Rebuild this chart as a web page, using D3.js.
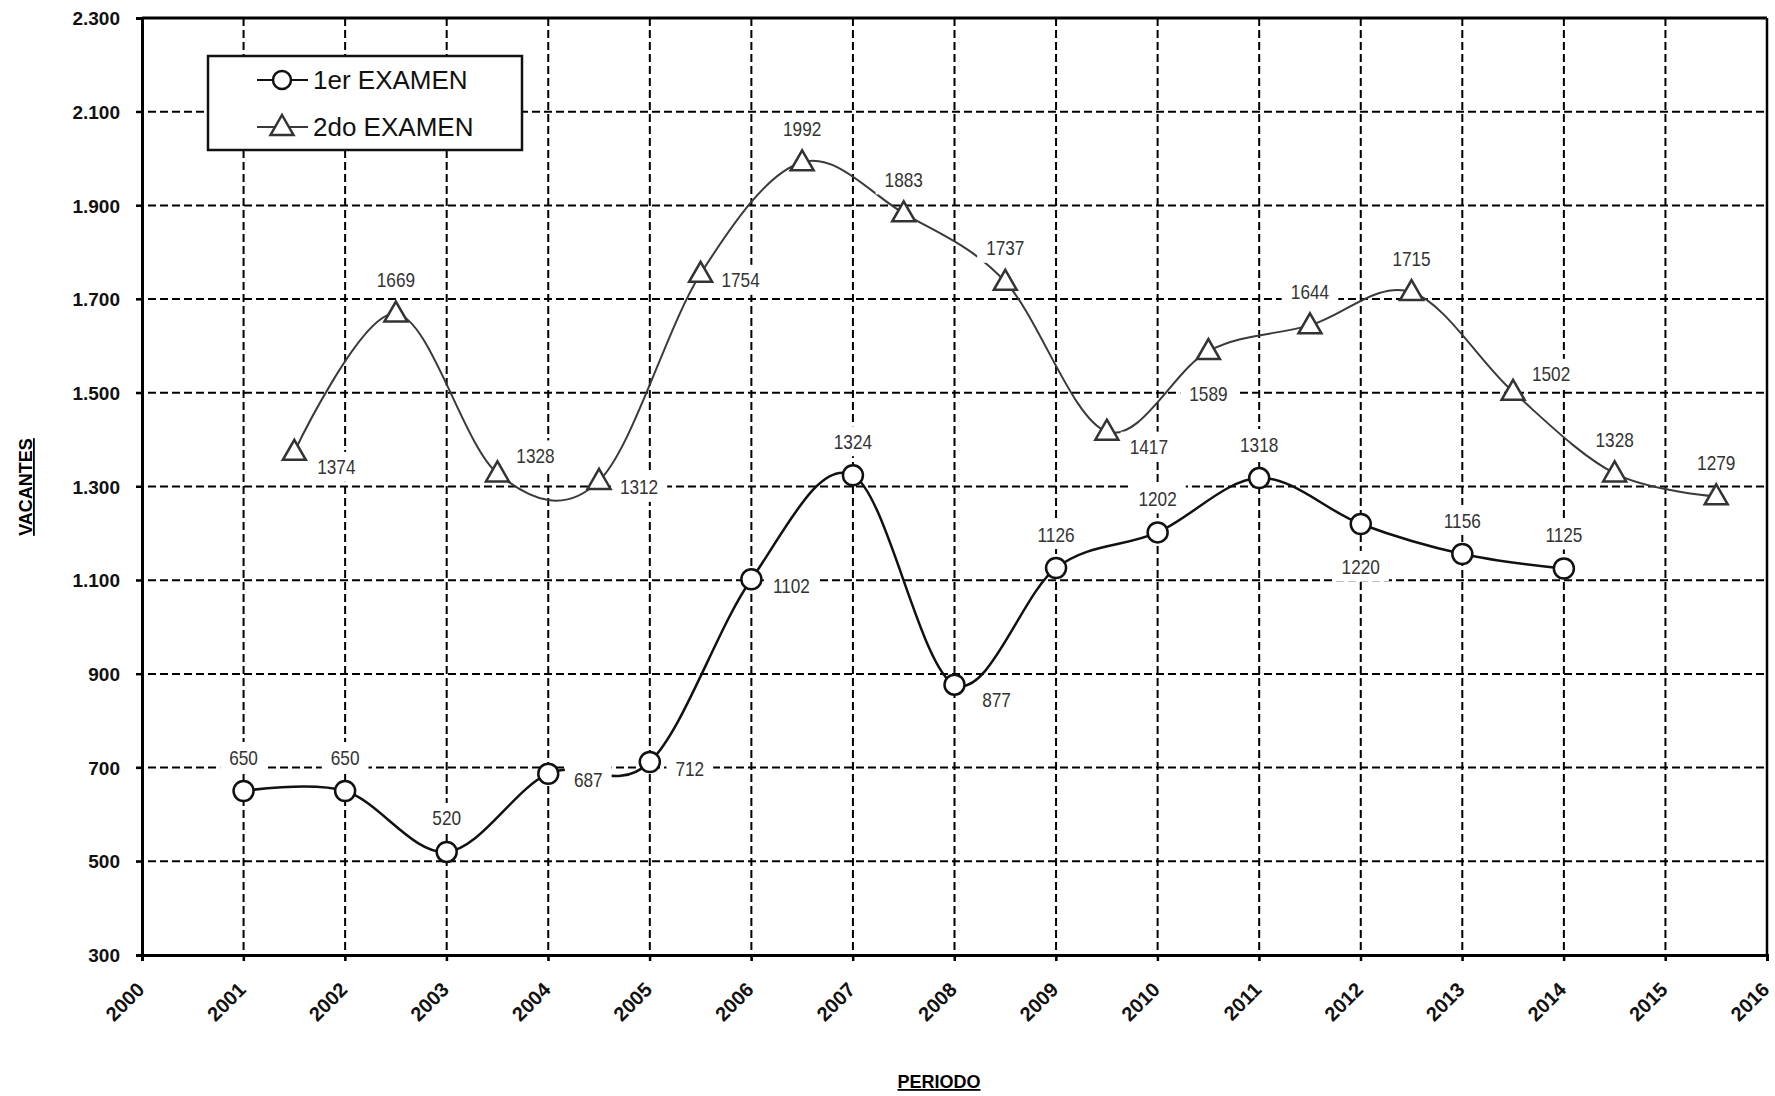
<!DOCTYPE html>
<html>
<head>
<meta charset="utf-8">
<script src="https://cdn.jsdelivr.net/npm/d3@7"></script>
<style>
  body { margin: 0; background: #fff; }
  svg { display: block; }
</style>
</head>
<body>
<div id="chart"></div>
<script>
// data
var years1 = [2001, 2002, 2003, 2004, 2005, 2006, 2007, 2008, 2009, 2010, 2011, 2012, 2013, 2014];
var exam1 = [650, 650, 520, 687, 712, 1102, 1324, 877, 1126, 1202, 1318, 1220, 1156, 1125];
var years2 = [2001.5, 2002.5, 2003.5, 2004.5, 2005.5, 2006.5, 2007.5, 2008.5, 2009.5, 2010.5, 2011.5, 2012.5, 2013.5, 2014.5, 2015.5];
var exam2 = [1374, 1669, 1328, 1312, 1754, 1992, 1883, 1737, 1417, 1589, 1644, 1715, 1502, 1328, 1279];
// where each value label sits: a = above, b = below, r = right, rb / ra = right-below / right-above
var place1 = ['a', 'a', 'a', 'r', 'r', 'r', 'a', 'rb', 'a', 'a', 'a', 'b', 'a', 'a'];
var place2 = ['rb', 'a', 'ra', 'r', 'r', 'a', 'a', 'a', 'rb', 'b', 'a', 'a', 'ra', 'a', 'a'];
var xTicks = d3.range(2000, 2017);
var yTicks = d3.range(300, 2301, 200);
var seriesNames = ['1er EXAMEN', '2do EXAMEN'];

var width = 1775, height = 1096;
var pLeft = 142, pTop = 18, pRight = 1767, pBottom = 955;

var offsets = { a: [0, -34], b: [0, 42], r: [40, 6], rb: [42, 15], ra: [38, -18] };

var axisFont = "'Liberation Sans', Arial, sans-serif";

var svg = d3.select("#chart").append("svg")
    .attr("width", width)
    .attr("height", height);

var x = d3.scaleLinear().domain([2000, 2016]).range([pLeft, pRight]);
var y = d3.scaleLinear().domain([300, 2300]).range([pBottom, pTop]);

var fmt = d3.formatLocale({ decimal: ",", thousands: ".", grouping: [3], currency: ["", ""] }).format(",d");

// grid
var grid = svg.append("g");
grid.selectAll("line.v").data(xTicks.slice(1, -1)).enter().append("line")
    .attr("x1", function(d) { return x(d); }).attr("x2", function(d) { return x(d); })
    .attr("y1", pTop).attr("y2", pBottom + 6)
    .attr("stroke", "#000").attr("stroke-width", 2).attr("stroke-dasharray", "8,4");
grid.selectAll("line.h").data(yTicks.slice(1, -1)).enter().append("line")
    .attr("x1", pLeft - 6).attr("x2", pRight)
    .attr("y1", function(d) { return y(d); }).attr("y2", function(d) { return y(d); })
    .attr("stroke", "#000").attr("stroke-width", 2).attr("stroke-dasharray", "8,4");

// axes through d3
var yAxis = svg.append("g")
    .attr("transform", "translate(" + pLeft + ",0)")
    .call(d3.axisLeft(y).tickValues(yTicks).tickFormat(fmt).tickSize(6).tickPadding(16));
yAxis.select(".domain").attr("stroke-width", 3);
yAxis.selectAll(".tick line").attr("stroke-width", 2);
yAxis.selectAll("text")
    .attr("font-family", axisFont).attr("font-weight", "bold").attr("font-size", 19).attr("fill", "#111")
    .attr("dy", "0.35em");

var xAxis = svg.append("g")
    .attr("transform", "translate(0," + pBottom + ")")
    .call(d3.axisBottom(x).tickValues(xTicks).tickFormat(d3.format("d")).tickSize(6));
xAxis.select(".domain").attr("stroke-width", 3);
xAxis.selectAll(".tick line").attr("stroke-width", 2);
xAxis.selectAll("text")
    .attr("font-family", axisFont).attr("font-weight", "bold").attr("font-size", 20).attr("fill", "#111")
    .attr("text-anchor", "end")
    .attr("dy", null)
    .attr("y", 0)
    .attr("transform", "translate(3,36) rotate(-45)");

// top and right border
svg.append("line").attr("x1", pLeft).attr("x2", pRight).attr("y1", pTop).attr("y2", pTop)
    .attr("stroke", "#000").attr("stroke-width", 3);
svg.append("line").attr("x1", pRight).attr("x2", pRight).attr("y1", pTop).attr("y2", pBottom)
    .attr("stroke", "#000").attr("stroke-width", 2.5);

// axis titles
svg.append("text")
    .attr("transform", "translate(32,487) rotate(-90)")
    .attr("text-anchor", "middle")
    .attr("font-family", axisFont).attr("font-weight", "bold").attr("font-size", 18)
    .attr("text-decoration", "underline")
    .text("VACANTES");
svg.append("text")
    .attr("x", 939).attr("y", 1088)
    .attr("text-anchor", "middle")
    .attr("font-family", axisFont).attr("font-weight", "bold").attr("font-size", 18)
    .attr("text-decoration", "underline")
    .text("PERIODO");

// lines
var line = d3.line()
    .x(function(d) { return x(d[0]); })
    .y(function(d) { return y(d[1]); })
    .curve(d3.curveCatmullRom.alpha(0));

var pts1 = years1.map(function(d, i) { return [d, exam1[i]]; });
var pts2 = years2.map(function(d, i) { return [d, exam2[i]]; });

svg.append("path").datum(pts2).attr("d", line)
    .attr("fill", "none").attr("stroke", "#3a3a3a").attr("stroke-width", 2);
svg.append("path").datum(pts1).attr("d", line)
    .attr("fill", "none").attr("stroke", "#111").attr("stroke-width", 2.5);

// value labels with white boxes (narrowed arial look)
function addLabels(pts, places) {
  var g = svg.append("g");
  pts.forEach(function(p, i) {
    var o = offsets[places[i]];
    var cx = x(p[0]) + o[0], cy = y(p[1]) + o[1];
    var lg = g.append("g").attr("transform", "translate(" + cx + "," + cy + ")");
    var t = lg.append("text")
        .attr("x", 0).attr("y", 0).attr("dy", "0.36em")
        .attr("text-anchor", "middle")
        .attr("transform", "scale(0.82,1)")
        .attr("font-family", axisFont).attr("font-size", 21).attr("fill", "#333")
        .text(p[1]);
    var w = t.node().getBBox().width * 0.82;
    lg.insert("rect", "text")
        .attr("x", -w / 2 - 9).attr("y", -15)
        .attr("width", w + 18).attr("height", 30)
        .attr("fill", "#fff");
  });
}
addLabels(pts1, place1);
addLabels(pts2, place2);

// markers
var tri = "M0,-12L11.5,8L-11.5,8Z";
svg.append("g").selectAll("path").data(pts2).enter().append("path")
    .attr("d", tri)
    .attr("transform", function(d) { return "translate(" + x(d[0]) + "," + y(d[1]) + ")"; })
    .attr("fill", "#fff").attr("stroke", "#333").attr("stroke-width", 2.5);
svg.append("g").selectAll("circle").data(pts1).enter().append("circle")
    .attr("cx", function(d) { return x(d[0]); })
    .attr("cy", function(d) { return y(d[1]); })
    .attr("r", 10)
    .attr("fill", "#fff").attr("stroke", "#111").attr("stroke-width", 2.5);

// legend
var leg = svg.append("g");
leg.append("rect").attr("x", 208).attr("y", 56).attr("width", 314).attr("height", 94)
    .attr("fill", "#fff").attr("stroke", "#111").attr("stroke-width", 2.5);
var rows = leg.selectAll("g.row").data(seriesNames).enter().append("g")
    .attr("transform", function(d, i) { return "translate(0," + (80 + i * 47) + ")"; });
rows.append("line").attr("x1", 257).attr("x2", 308).attr("y1", 0).attr("y2", 0)
    .attr("stroke", function(d, i) { return i ? "#3a3a3a" : "#111"; }).attr("stroke-width", 2);
rows.each(function(d, i) {
  var r = d3.select(this);
  if (i === 0) {
    r.append("circle").attr("cx", 282).attr("cy", 0).attr("r", 9)
        .attr("fill", "#fff").attr("stroke", "#111").attr("stroke-width", 2.5);
  } else {
    r.append("path").attr("d", tri).attr("transform", "translate(282,0)")
        .attr("fill", "#fff").attr("stroke", "#333").attr("stroke-width", 2.5);
  }
});
rows.append("text").attr("x", 313).attr("y", 0).attr("dy", "0.36em")
    .attr("font-family", axisFont).attr("font-size", 26).attr("fill", "#111")
    .text(function(d) { return d; });
</script>
</body>
</html>
